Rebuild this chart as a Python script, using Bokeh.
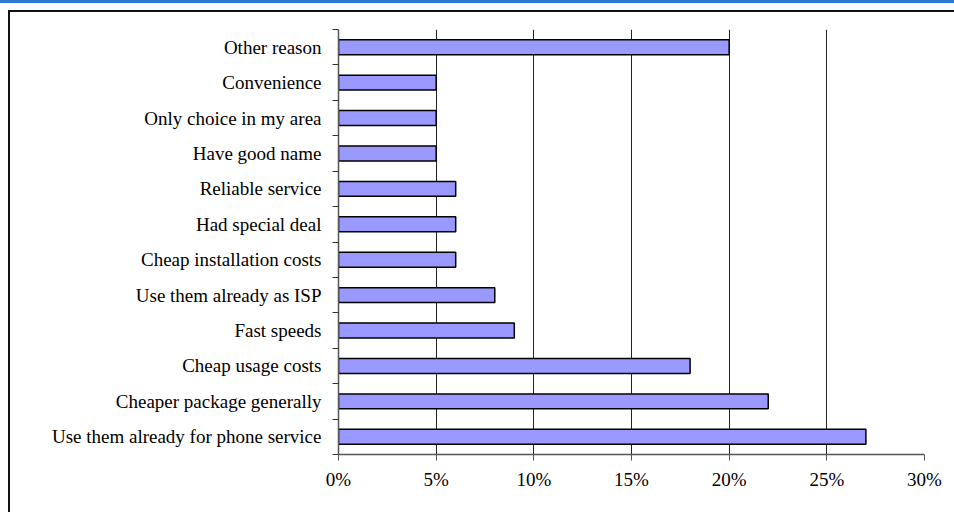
from bokeh.plotting import figure
from bokeh.models import Range1d, FixedTicker, PrintfTickFormatter, ColumnDataSource, InlineStyleSheet
from bokeh.embed import file_html
from bokeh.resources import INLINE

# Data (bottom to top)
categories = [
    "Use them already for phone service",
    "Cheaper package generally",
    "Cheap usage costs",
    "Fast speeds",
    "Use them already as ISP",
    "Cheap installation costs",
    "Had special deal",
    "Reliable service",
    "Have good name",
    "Only choice in my area",
    "Convenience",
    "Other reason",
]
values = [27, 22, 18, 9, 8, 6, 6, 6, 5, 5, 5, 20]
x_ticks = [0, 5, 10, 15, 20, 25, 30]

n = len(categories)
ypos = [i + 0.5 for i in range(n)]
src = ColumnDataSource(dict(y=ypos, v=values, cat=categories))

p = figure(
    width=954, height=512,
    output_backend="svg", toolbar_location=None,
    x_range=Range1d(0, 30), y_range=Range1d(0, n),
    min_border_left=338, min_border_right=30, min_border_top=29, min_border_bottom=58,
    frame_width=586, frame_height=425,
)
p.outline_line_color = None
p.background_fill_color = "white"
p.border_fill_color = "white"

p.hbar(y="y", right="v", left=0, height=0.42, source=src,
       fill_color="#9999FF", line_color="black", line_width=1.5)

# grid
p.ygrid.grid_line_color = None
p.xgrid.ticker = FixedTicker(ticks=x_ticks[1:])
p.xgrid.grid_line_color = "#222222"
p.xgrid.grid_line_width = 1

# x axis
xa = p.xaxis[0]
xa.ticker = FixedTicker(ticks=x_ticks)
xa.formatter = PrintfTickFormatter(format="%d%%")
xa.axis_line_color = "#555555"
xa.axis_line_width = 1.5
xa.major_tick_line_color = "#555555"
xa.major_tick_out = 6
xa.major_tick_in = 0
xa.minor_tick_line_color = None
xa.major_label_standoff = 8
xa.major_label_text_font = "Liberation Serif"
xa.major_label_text_font_size = "19px"
xa.major_label_text_color = "black"

# y axis
ya = p.yaxis[0]
ya.ticker = FixedTicker(ticks=ypos, minor_ticks=list(range(n + 1)))
ya.major_label_overrides = {y: c for y, c in zip(ypos, categories)}
ya.axis_line_color = "#555555"
ya.axis_line_width = 1.5
ya.major_tick_line_color = None
ya.major_tick_out = 0
ya.major_tick_in = 0
ya.minor_tick_line_color = "#333333"
ya.minor_tick_out = 6
ya.minor_tick_in = 0
ya.major_label_standoff = 11
ya.major_label_text_font = "Liberation Serif"
ya.major_label_text_font_size = "19px"
ya.major_label_text_color = "black"

# outer chart border (top/left) and top blue stripe, drawn with CSS
p.stylesheets = [InlineStyleSheet(css="""
:host::before {
  content: ""; position: absolute; left: 8px; top: 10px;
  width: 946px; height: 502px; box-sizing: border-box;
  border-top: 2px solid #111; border-left: 2px solid #111;
  pointer-events: none; z-index: 10;
}
:host::after {
  content: ""; position: absolute; left: 0px; top: 0px;
  width: 954px; height: 3px; background: #2a7ad5;
  pointer-events: none; z-index: 10;
}
""")]

open("out.html", "w").write(file_html(p, INLINE))
